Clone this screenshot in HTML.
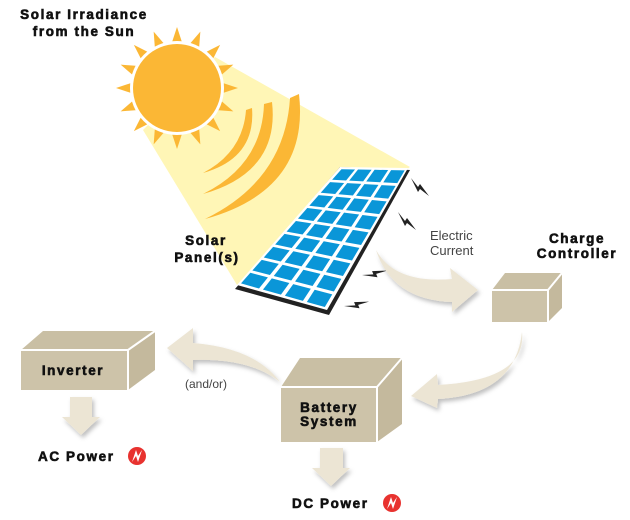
<!DOCTYPE html>
<html><head><meta charset="utf-8"><style>
html,body{margin:0;padding:0;background:#fff;}
svg{display:block}
.b{font-family:"Liberation Sans",sans-serif;font-weight:bold;font-size:13.5px;fill:#111;stroke:#111;stroke-width:0.6;letter-spacing:1.6px}
.n{font-family:"Liberation Sans",sans-serif;font-size:13px;fill:#444}
</style></head><body>
<svg id="s" width="630" height="520" viewBox="0 0 630 520" xmlns="http://www.w3.org/2000/svg">
<defs>
<filter id="sh" x="-20%" y="-20%" width="150%" height="150%"><feDropShadow dx="2" dy="3" stdDeviation="2" flood-color="#000" flood-opacity="0.25"/></filter>
<path id="bolt" d="M0,0 L7,9 L9,6 L18,18 L9,11 L7,14 Z"/>
</defs>
<polygon points="215,57 410,167 237,285 143,130" fill="#fff6b6"/>
<g id="rays" fill="#fbb735"></g>
<circle cx="177" cy="88" r="47" fill="#fff"/>
<circle cx="177" cy="88" r="44" fill="#fbb735"/>
<path d="M252,108 Q256,158 203,173 Q243,152 246,110 Z" fill="#fbb735"/>
<path d="M272,102 Q280,172 203,194 Q262,165 264,104 Z" fill="#fbb735"/>
<path d="M299,94 Q310,190 205,219 Q285,180 290,98 Z" fill="#fbb735"/>
<polygon points="340,167 410,170 329,315 235,289" fill="#222"/>
<polygon points="340,167 408,168 327,310 237,285" fill="#fff"/>
<g id="cells" fill="#0a96d8"></g>
<g fill="#222">
<use href="#bolt" transform="translate(411,178)"/>
<use href="#bolt" transform="translate(398,212)"/>
<use href="#bolt" transform="translate(362,275) rotate(-55)"/>
<use href="#bolt" transform="translate(344,306) rotate(-55)"/>
</g>
<g fill="#ece5d4" filter="url(#sh)">
<path d="M376,250 Q395,284 452,279 L450,268 L478,290 L452,312 L452,302 Q392,300 376,250 Z"/>
<path d="M522,332 Q527,380 438,385 L437,374 L411,396 L437,408 L438,399 Q515,395 522,332 Z"/>
<path d="M280,382 Q255,348 193,343 L193,328 L167,348 L193,371 L193,360 Q250,358 280,382 Z"/>
<path d="M70,397 L92,397 L92,417 L100,417 L81,435 L62,417 L70,417 Z"/>
<path d="M320,448 L343,448 L343,468 L350,468 L331,486 L312,468 L320,468 Z"/>
</g>
<polygon points="492,290 505,273 562,273 548,290" fill="#c9bfa4"/>
<polygon points="548,290 562,273 562,308 548,322" fill="#c4b99d"/>
<rect x="492" y="290" width="56" height="32" fill="#cdc3a9"/>
<polyline points="492,290 548,290 548,322" fill="none" stroke="#fff" stroke-width="2"/>
<line x1="548" y1="290" x2="562" y2="273" stroke="#fff" stroke-width="2"/>
<polygon points="21,350 43,331 155,331 128,350" fill="#c9bfa4"/>
<polygon points="128,350 155,331 155,370 128,390" fill="#c4b99d"/>
<rect x="21" y="350" width="107" height="40" fill="#cdc3a9"/>
<polyline points="21,350 128,350 128,390" fill="none" stroke="#fff" stroke-width="2"/>
<line x1="128" y1="350" x2="155" y2="331" stroke="#fff" stroke-width="2"/>
<polygon points="281,387 300,358 402,358 377,387" fill="#c9bfa4"/>
<polygon points="377,387 402,358 402,424 377,442" fill="#c4b99d"/>
<rect x="281" y="387" width="96" height="55" fill="#cdc3a9"/>
<polyline points="281,387 377,387 377,442" fill="none" stroke="#fff" stroke-width="2"/>
<line x1="377" y1="387" x2="402" y2="358" stroke="#fff" stroke-width="2"/>
<text class="b" x="84" y="19" text-anchor="middle">Solar Irradiance</text>
<text class="b" x="84" y="36" text-anchor="middle">from the Sun</text>
<text class="b" x="206" y="245" text-anchor="middle">Solar</text>
<text class="b" x="207" y="262" text-anchor="middle">Panel(s)</text>
<text class="n" x="430" y="240">Electric</text>
<text class="n" x="430" y="255">Current</text>
<text class="b" x="577" y="243" text-anchor="middle">Charge</text>
<text class="b" x="577" y="258" text-anchor="middle">Controller</text>
<text class="b" x="73" y="375" text-anchor="middle">Inverter</text>
<text class="n" x="185" y="388" style="font-size:12px">(and/or)</text>
<text class="b" x="329" y="412" text-anchor="middle">Battery</text>
<text class="b" x="329" y="426" text-anchor="middle">System</text>
<text class="b" x="38" y="461">AC Power</text>
<text class="b" x="292" y="508">DC Power</text>
<g>
<circle cx="137" cy="456" r="9" fill="#e8322f"/>
<path d="M132,462 L136,450 L138,456 L142,450 L138,462 L136,456 Z" fill="#fff"/>
<circle cx="392" cy="503" r="9" fill="#e8322f"/>
<path d="M387,509 L391,497 L393,503 L397,497 L393,509 L391,503 Z" fill="#fff"/>
</g>
</svg>
<script>
var NS="http://www.w3.org/2000/svg";
var r=document.getElementById("rays"),cx=177,cy=88;
for(var i=0;i<16;i++){var a=i*Math.PI/8,w=0.13,ri=44,ro=61;
var p=[[cx+ri*Math.cos(a-w),cy+ri*Math.sin(a-w)],[cx+ro*Math.cos(a),cy+ro*Math.sin(a)],[cx+ri*Math.cos(a+w),cy+ri*Math.sin(a+w)]];
var e=document.createElementNS(NS,"polygon");e.setAttribute("points",p.map(function(q){return q.join(",")}).join(" "));r.appendChild(e);}
var TL=[341,168],TR=[407,169],BL=[238,284],BR=[326,309];
function pt(u,v){var t=[TL[0]+(TR[0]-TL[0])*u,TL[1]+(TR[1]-TL[1])*u],b=[BL[0]+(BR[0]-BL[0])*u,BL[1]+(BR[1]-BL[1])*u];return [t[0]+(b[0]-t[0])*v,t[1]+(b[1]-t[1])*v];}
var c=document.getElementById("cells"),C=4,R=9,g=0.045,gv=0.02;
for(var i=0;i<C;i++)for(var j=0;j<R;j++){var u0=i/C+g/2,u1=(i+1)/C-g/2,v0=j/R+gv/2,v1=(j+1)/R-gv/2;
var p=[pt(u0,v0),pt(u1,v0),pt(u1,v1),pt(u0,v1)];var e=document.createElementNS(NS,"polygon");
e.setAttribute("points",p.map(function(q){return q.join(",")}).join(" "));c.appendChild(e);}
</script>
</body></html>
